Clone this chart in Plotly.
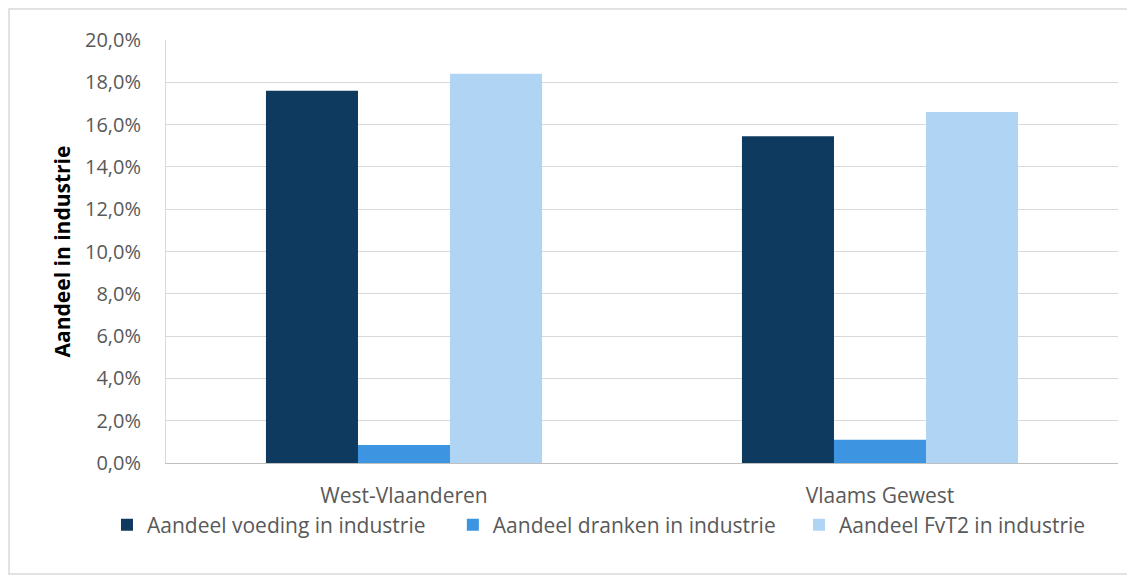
import plotly.graph_objects as go

regions = ["West-Vlaanderen", "Vlaams Gewest"]
voeding = [17.6, 15.45]
dranken = [0.85, 1.1]
fvt2 = [18.4, 16.6]

series_names = ["Aandeel voeding in industrie", "Aandeel dranken in industrie", "Aandeel FvT2 in industrie"]
colors = ["#0f3a60", "#3d94e0", "#b0d4f3"]
legend_ids = ["legend", "legend2", "legend3"]
legend_x = [-0.062, 0.3013, 0.6649]

fig = go.Figure()
for name, vals, col, lg in zip(series_names, [voeding, dranken, fvt2], colors, legend_ids):
    fig.add_trace(go.Bar(x=regions, y=vals, name=name, marker_color=col,
                         marker_line_width=0, legend=lg, showlegend=True))

# one legend per series so the row never wraps
legend_style = dict(orientation="h", xanchor="left", y=-0.1466, yanchor="middle",
                    font=dict(size=21, color="#595959"), bgcolor="rgba(0,0,0,0)")
for lg, lx in zip(legend_ids, legend_x):
    fig.update_layout({lg: dict(legend_style, x=lx)})

# page has an 8px body margin, so the figure is a bit smaller than the window
fig.update_layout(
    width=1127, height=568, showlegend=True,
    barmode="group", bargap=0.42, bargroupgap=0,
    plot_bgcolor="white", paper_bgcolor="white",
    margin=dict(l=158, r=17, t=32, b=113),
    font=dict(family="Open Sans, sans-serif", size=20, color="#595959"),
    yaxis=dict(range=[0, 20], dtick=2, ticksuffix="%", tickformat=".1f",
               showgrid=True, gridcolor="#d9d9d9",
               showline=True, linecolor="#d9d9d9", ticks="", ticklabelstandoff=20,
               title=dict(text="<b>Aandeel in industrie</b>", font=dict(size=21, color="black"), standoff=8),
               zeroline=False),
    xaxis=dict(showline=True, linecolor="#bfbfbf", ticks="", ticklabelstandoff=14,
               showgrid=False, tickfont=dict(size=21)),
    separators=",.",
    shapes=[dict(type="rect", xref="paper", yref="paper",
                 x0=-0.1649, x1=1.0158, y0=-0.2624, y1=1.0733,
                 line=dict(color="#d9d9d9", width=1.5))],
)

fig.write_html("out.html")
